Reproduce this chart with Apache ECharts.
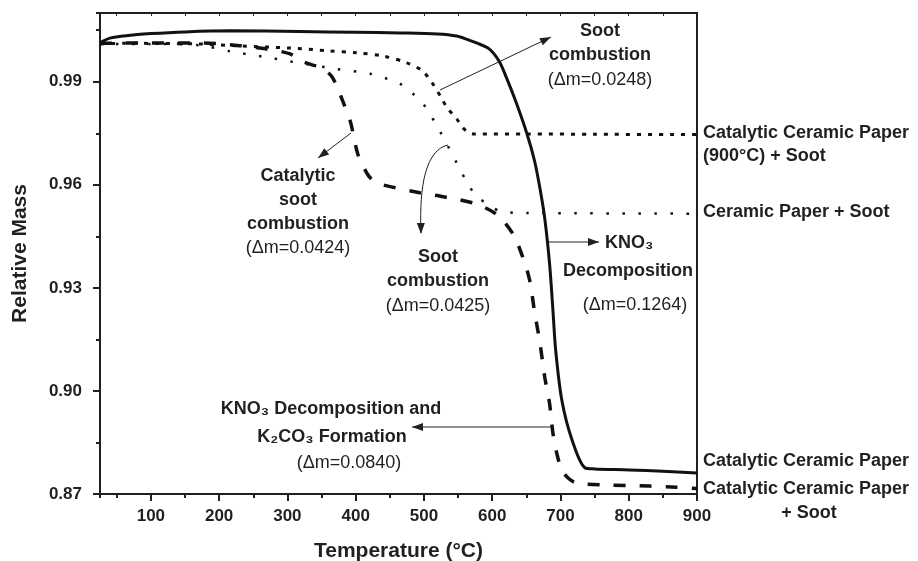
<!DOCTYPE html>
<html><head><meta charset="utf-8">
<script src="https://cdn.jsdelivr.net/npm/echarts@6/dist/echarts.min.js"></script>
<style>html,body{margin:0;padding:0;background:#fff}#c{width:918px;height:561px}</style>
</head><body><div id="c"></div>
<script>
// Catalytic Ceramic Paper (solid)
const ccpT = [25.5,40,70,100,150,217,318,400,465,520,548,565,577,596,610,621,635,651,662,670,677,684,689,693,702,717,736,750,801,850,900];
const ccpM = [1.0013,1.0027,1.0035,1.0040,1.0045,1.0048,1.0046,1.0044,1.0042,1.0039,1.0033,1.0022,1.0013,0.9995,0.9960,0.9911,0.9840,0.9748,0.9670,0.9589,0.9502,0.9371,0.9234,0.9118,0.8973,0.8857,0.8776,0.8773,0.8770,0.8766,0.8761];
// Catalytic Ceramic Paper (900 °C) + Soot (short dots)
const c900T = [25.5,60,120,169,230,304,360,402,440,475,498,513,525,534,548,557,565,572,650,750,900];
const c900M = [1.0010,1.0012,1.0011,1.0010,1.0004,0.9998,0.9990,0.9984,0.9975,0.9955,0.9931,0.9894,0.9855,0.9824,0.9792,0.9766,0.9752,0.9748,0.9748,0.9747,0.9746];
// Ceramic Paper + Soot (sparse dots)
const cpsT = [25.5,100,172,217,276,301,372,421,465,484,501,523,548,565,577,596,614,650,900];
const cpsM = [1.0010,1.0010,1.0006,0.9988,0.9969,0.9960,0.9937,0.9923,0.9894,0.9865,0.9830,0.9757,0.9664,0.9600,0.9568,0.9539,0.9522,0.9518,0.9516];
// Catalytic Ceramic Paper + Soot (dashed)
const ccpsT = [25.5,100,172,230,270,304,318,335,351,365,374,381,392,403,412,421,435,457,494,534,575,607,630,645,655,662,670,677,684,689,695,702,712,724,768,831,870,900];
const ccpsM = [1.0012,1.0013,1.0013,1.0005,0.9995,0.9981,0.9962,0.9950,0.9940,0.9915,0.9879,0.9844,0.9786,0.9690,0.9650,0.9621,0.9603,0.9592,0.9577,0.9563,0.9545,0.9513,0.9458,0.9388,0.9321,0.9231,0.9139,0.9040,0.8964,0.8877,0.8815,0.8770,0.8745,0.8732,0.8726,0.8723,0.8720,0.8716];

const xRange = [25.5, 900];
const yRange = [0.87, 1.01];

const FONT = "'Liberation Sans', Arial, Helvetica, sans-serif";
const INK = '#231f20';
const zip = (a, b) => a.map((v, i) => [v, b[i]]);

const chart = echarts.init(document.getElementById('c'), null, {renderer: 'canvas'});

function lineSeries(name, t, m, width, dash) {
  return {
    name, type: 'line', xAxisIndex: 0, yAxisIndex: 0,
    data: zip(t, m), showSymbol: false, symbol: 'none',
    smooth: 0.3,
    lineStyle: {color: '#111', width, type: dash, cap: 'butt'},
    silent: true, animation: false
  };
}

function arrow(x1, y1, x2, y2, fromx, fromy) {
  const dx = x2 - (fromx ?? x1), dy = y2 - (fromy ?? y1);
  const len = Math.hypot(dx, dy);
  const ux = dx / len, uy = dy / len;
  const L = 11, W = 4;
  const bx = x2 - L * ux, by = y2 - L * uy;
  return {
    type: 'polygon', silent: true,
    shape: {points: [[x2, y2], [bx - W * uy, by + W * ux], [bx + W * uy, by - W * ux]]},
    style: {fill: INK}
  };
}
function straight(x1, y1, x2, y2) {
  return [
    {type: 'line', silent: true, shape: {x1, y1, x2, y2}, style: {stroke: INK, lineWidth: 1}},
    arrow(x1, y1, x2, y2)
  ];
}
function txt(x, y, text, bold, align) {
  return {
    type: 'text', silent: true, x, y,
    style: {text, fill: INK, font: (bold ? 'bold ' : '') + '18px ' + FONT,
      align: align || 'center', verticalAlign: 'middle'}
  };
}

const graphics = [
  // Soot combustion (0.0248)
  txt(600, 31, 'Soot', true), txt(600, 55, 'combustion', true), txt(600, 80, '(Δm=0.0248)', false),
  ...straight(440, 90, 551, 37),
  // Catalytic soot combustion
  txt(298, 176, 'Catalytic', true), txt(298, 200, 'soot', true), txt(298, 224, 'combustion', true),
  txt(298, 248, '(Δm=0.0424)', false),
  ...straight(351, 133, 318, 158),
  // Soot combustion (0.0425) with curved arrow
  txt(438, 257, 'Soot', true), txt(438, 281, 'combustion', true), txt(438, 306, '(Δm=0.0425)', false),
  {type: 'bezierCurve', silent: true,
   shape: {x1: 448, y1: 145, cpx1: 426, cpy1: 150, cpx2: 419, cpy2: 185, x2: 421, y2: 233},
   style: {stroke: INK, lineWidth: 1, fill: null}},
  arrow(421, 222, 421, 234, 420.5, 200),
  // KNO3 decomposition
  ...straight(548, 242, 599, 242),
  txt(605, 243, 'KNO₃', true, 'left'),
  txt(628, 271, 'Decomposition', true), txt(635, 305, '(Δm=0.1264)', false),
  // KNO3 decomposition and K2CO3 formation
  txt(331, 409, 'KNO₃ Decomposition and', true), txt(332, 437, 'K₂CO₃ Formation', true),
  txt(349, 463, '(Δm=0.0840)', false),
  ...straight(551, 427, 412, 427),
  // right-side series labels
  txt(703, 133, 'Catalytic Ceramic Paper', true, 'left'),
  txt(703, 156, '(900°C) + Soot', true, 'left'),
  txt(703, 212, 'Ceramic Paper + Soot', true, 'left'),
  txt(703, 461, 'Catalytic Ceramic Paper', true, 'left'),
  txt(703, 489, 'Catalytic Ceramic Paper', true, 'left'),
  txt(809, 513, '+ Soot', true)
];

const axisLineStyle = {color: INK, width: 2};
const option = {
  animation: false,
  backgroundColor: '#fff',
  grid: {left: 100, right: 221, top: 13, bottom: 67, outerBoundsMode: 'none', containLabel: false},
  xAxis: [
    {type: 'value', min: xRange[0], max: xRange[1], splitNumber: 9, position: 'bottom',
     axisLine: {show: true, onZero: false, lineStyle: axisLineStyle},
     axisTick: {show: true, inside: false, length: 7, lineStyle: {color: INK, width: 2}},
     axisLabel: {showMinLabel: false, color: INK, fontSize: 17, fontWeight: 'bold', fontFamily: FONT, margin: 14},
     splitLine: {show: false},
     name: 'Temperature (°C)', nameLocation: 'middle', nameGap: 47,
     nameTextStyle: {color: INK, fontSize: 21, fontWeight: 'bold', fontFamily: FONT}},
    {type: 'value', min: xRange[0], max: xRange[1], splitNumber: 18, position: 'bottom',
     axisLine: {show: false, onZero: false},
     axisTick: {show: true, inside: false, length: 4, lineStyle: {color: INK, width: 2}},
     axisLabel: {show: false}, splitLine: {show: false}},
    {type: 'value', min: xRange[0], max: xRange[1], splitNumber: 18, position: 'top',
     axisLine: {show: true, onZero: false, lineStyle: axisLineStyle},
     axisTick: {show: true, inside: true, length: 3, lineStyle: {color: INK, width: 1}},
     axisLabel: {show: false}, splitLine: {show: false}}
  ],
  yAxis: [
    {type: 'value', min: yRange[0], max: yRange[1], interval: 0.03, position: 'left',
     axisLine: {show: true, onZero: false, lineStyle: axisLineStyle},
     axisTick: {show: true, inside: false, length: 7, lineStyle: {color: INK, width: 2}},
     axisLabel: {showMaxLabel: false, formatter: v => v.toFixed(2), color: INK, fontSize: 17,
       fontWeight: 'bold', fontFamily: FONT, margin: 18},
     splitLine: {show: false},
     name: 'Relative Mass', nameLocation: 'middle', nameGap: 69,
     nameTextStyle: {color: INK, fontSize: 21, fontWeight: 'bold', fontFamily: FONT}},
    {type: 'value', min: yRange[0], max: yRange[1], interval: 0.015, position: 'left',
     axisLine: {show: false, onZero: false},
     axisTick: {show: true, inside: false, length: 4, lineStyle: {color: INK, width: 2}},
     axisLabel: {show: false}, splitLine: {show: false}},
    {type: 'value', min: yRange[0], max: yRange[1], interval: 0.03, position: 'right',
     axisLine: {show: true, onZero: false, lineStyle: axisLineStyle},
     axisTick: {show: false}, axisLabel: {show: false}, splitLine: {show: false}}
  ],
  series: [
    lineSeries('Catalytic Ceramic Paper', ccpT, ccpM, 3, 'solid'),
    lineSeries('Catalytic Ceramic Paper (900°C) + Soot', c900T, c900M, 3, [4, 7]),
    lineSeries('Ceramic Paper + Soot', cpsT, cpsM, 2.5, [2.5, 13.5]),
    lineSeries('Catalytic Ceramic Paper + Soot', ccpsT, ccpsM, 3.5, [12, 14])
  ],
  graphic: graphics
};
chart.setOption(option);
</script>
</body></html>
